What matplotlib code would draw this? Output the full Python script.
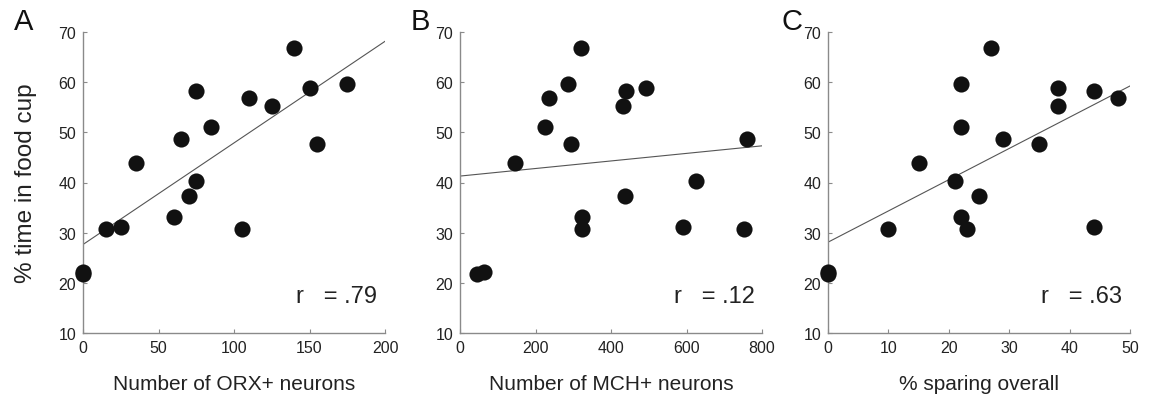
import numpy as np
import matplotlib
matplotlib.use("Agg")
import matplotlib.pyplot as plt

plt.rcParams['font.family'] = ['Liberation Sans', 'DejaVu Sans']

# % time in food cup (one value per subject)
food_cup = [21.7, 22.1, 30.7, 30.8, 31.2, 33.1, 37.4, 40.3, 43.9, 47.6,
            48.7, 51.1, 55.2, 56.8, 58.2, 58.8, 59.7, 66.9]
# Panel A: number of ORX+ neurons
orx = [0, 0, 15, 105, 25, 60, 70, 75, 35, 155, 65, 85, 125, 110, 75, 150, 175, 140]
# Panel B: number of MCH+ neurons
mch = [44, 64, 751, 324, 591, 324, 436, 625, 145, 294, 760, 224, 431, 235, 440, 494, 285, 320]
# Panel C: % sparing overall
sparing = [0, 0, 10, 23, 44, 22, 25, 21, 15, 35, 29, 22, 38, 48, 44, 38, 22, 27]

panel_letters = ["A", "B", "C"]
xlabels = ["Number of ORX+ neurons", "Number of MCH+ neurons", "% sparing overall"]
r_labels = ["r   = .79", "r   = .12", "r   = .63"]
xlims = [(0, 200), (0, 800), (0, 50)]
xticks = [[0, 50, 100, 150, 200], [0, 200, 400, 600, 800], [0, 10, 20, 30, 40, 50]]
yticks = [10, 20, 30, 40, 50, 60, 70]

fig = plt.figure(figsize=(11.51, 4.10), dpi=100)
lefts = [83 / 1151, 460 / 1151, 828 / 1151]
w = 302 / 1151
bottom = 1 - 334 / 410
h = 301 / 410
letter_x = [24 / 1151, 420 / 1151, 792 / 1151]

xs_all = [orx, mch, sparing]
for i in range(3):
    ax = fig.add_axes([lefts[i], bottom, w, h])
    x = np.array(xs_all[i], dtype=float)
    y = np.array(food_cup, dtype=float)
    ax.scatter(x, y, s=135, color="#111111", zorder=3, linewidths=0, clip_on=False)
    m, b = np.polyfit(x, y, 1)
    lx = np.array(xlims[i], dtype=float)
    ax.plot(lx, m * lx + b, color="#555555", lw=0.8, zorder=2)
    ax.set_xlim(*xlims[i])
    ax.set_ylim(10, 70)
    ax.set_xticks(xticks[i])
    ax.set_yticks(yticks)
    for s in ["top", "right"]:
        ax.spines[s].set_visible(False)
    for s in ["left", "bottom"]:
        ax.spines[s].set_color("#8a8a8a")
        ax.spines[s].set_linewidth(1.0)
    ax.tick_params(direction="in", length=3, color="#8a8a8a", labelsize=11.5,
                   labelcolor="#222222", pad=5)
    ax.set_xlabel(xlabels[i], fontsize=15, color="#222222", labelpad=14)
    if i == 0:
        ax.set_ylabel("% time in food cup", fontsize=17.5, color="#222222", labelpad=15)
    ax.text(0.975, 0.123, r_labels[i], transform=ax.transAxes, ha="right",
            va="center", fontsize=17, color="#222222")
    fig.text(letter_x[i], 1 - 22 / 410, panel_letters[i], fontsize=21,
             ha="center", va="center", color="#111111")

fig.savefig("out.png", dpi=100)
